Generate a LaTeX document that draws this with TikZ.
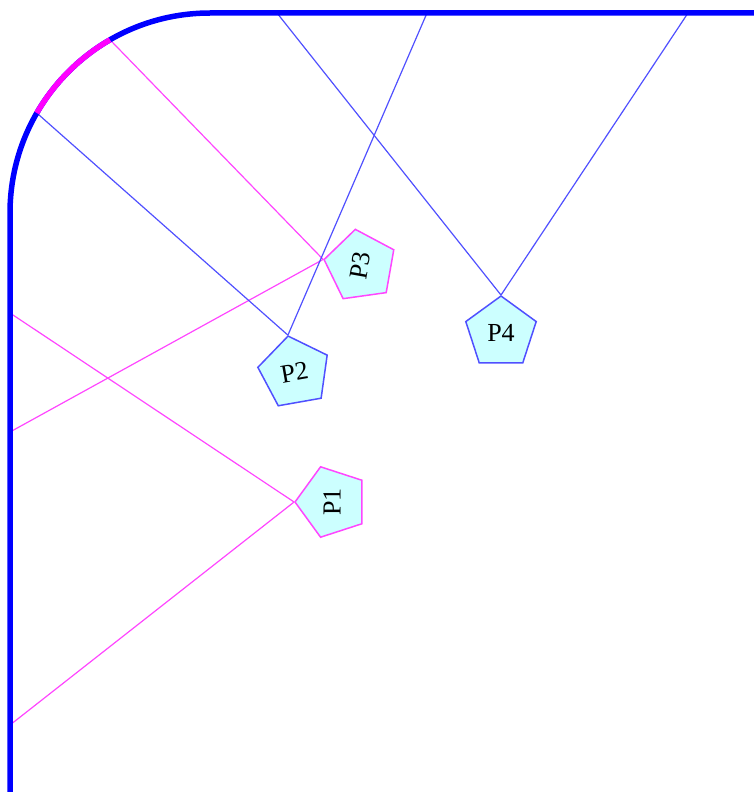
\documentclass[tikz,border=0pt]{standalone}
\usepackage{tikz}
\usepackage{fontspec}
\setmainfont{Liberation Serif}
\definecolor{wallblue}{RGB}{0, 0, 255}
\definecolor{arcpink}{RGB}{255, 0, 255}
\definecolor{beamblue}{RGB}{80, 80, 255}
\definecolor{beampink}{RGB}{255, 70, 255}
\definecolor{pf}{RGB}{204, 255, 255}
\usetikzlibrary{shapes.geometric}

\begin{document}
\begin{tikzpicture}[
  prism/.style={shape=regular polygon, regular polygon sides=5, minimum size=74pt, inner sep=0pt, fill=pf, line width=1.5pt, font=\fontsize{26}{30}\selectfont},
  blue beam/.style={line width=1.2pt, color=beamblue},
  pink beam/.style={line width=1.2pt, color=beampink}]
\useasboundingbox (0pt, 0pt) rectangle (754pt, -792pt);
\node (p1) [prism, draw=beampink, rotate=90] at (332.0pt, -502.0pt) {P1};
\node (p2) [prism, draw=beamblue, rotate=10] at (294.5pt, -372.5pt) {P2};
\node (p3) [prism, draw=beampink, rotate=80] at (360.5pt, -266.0pt) {P3};
\node (p4) [prism, draw=beamblue] at (501.0pt, -333.0pt) {P4};
\coordinate (w1) at (10.0pt, -313.0pt);
\coordinate (w2) at (10.0pt, -432.0pt);
\coordinate (w3) at (10.0pt, -725.0pt);
\coordinate (t1) at (277.0pt, -13.0pt);
\coordinate (t2) at (427.0pt, -13.0pt);
\coordinate (t3) at (688.0pt, -13.0pt);
\coordinate (c) at (210.0pt, -213.0pt);
\path (c) ++(150:200pt) coordinate (a1);
\path (c) ++(120:200pt) coordinate (a2);
\draw [pink beam] (w1) to (p1.corner 1);
\draw [pink beam] (w3) to (p1.corner 1);
\draw [pink beam] (w2) to (p3.corner 1);
\draw [pink beam] (a2) to (p3.corner 1);
\draw [blue beam] (a1) to (p2.corner 1);
\draw [blue beam] (p2.corner 1) to (t2);
\draw [blue beam] (t1) to (p4.corner 1);
\draw [blue beam] (p4.corner 1) to (t3);
\draw [line width=5.5pt, color=wallblue, rounded corners=200pt] (10.0pt, -792.0pt) |- (754.0pt, -13.0pt);
\draw [line width=5.5pt, color=arcpink] (a1) arc (150:120:200pt);
\end{tikzpicture}
\end{document}
